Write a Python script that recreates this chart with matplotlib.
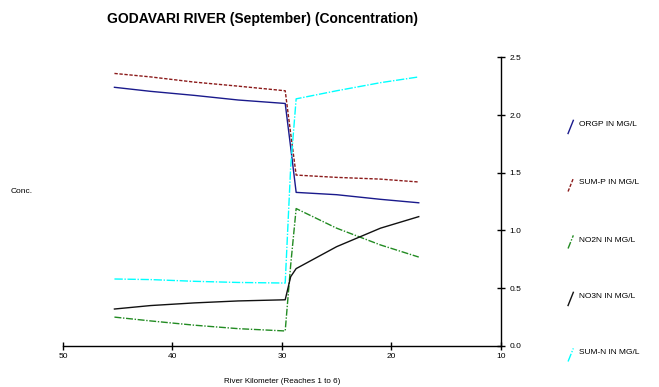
import matplotlib
matplotlib.use("Agg")
import matplotlib.pyplot as plt
from matplotlib.lines import Line2D

plt.rcParams["font.family"] = ["Liberation Sans", "DejaVu Sans"]

# River kilometer of the computational points (reaches 1 to 6)
km = [45.3, 42.0, 38.0, 34.0, 29.7, 29.2, 28.7, 25.0, 21.0, 17.5]

orgp = [2.24, 2.205, 2.17, 2.13, 2.10, 1.72, 1.33, 1.31, 1.27, 1.24]
sum_p = [2.36, 2.33, 2.285, 2.25, 2.21, 1.84, 1.48, 1.46, 1.445, 1.42]
no2n = [0.25, 0.217, 0.18, 0.15, 0.13, 0.70, 1.19, 1.02, 0.875, 0.77]
no3n = [0.32, 0.35, 0.373, 0.39, 0.40, 0.60, 0.67, 0.86, 1.02, 1.12]
sum_n = [0.58, 0.575, 0.56, 0.55, 0.545, 1.55, 2.14, 2.21, 2.28, 2.33]

labels = ["ORGP IN MG/L", "SUM-P IN MG/L", "NO2N IN MG/L", "NO3N IN MG/L", "SUM-N IN MG/L"]
series = [orgp, sum_p, no2n, no3n, sum_n]
colors = ["#1a1a8c", "#8b1a1a", "#228b22", "#111111", "#00ffff"]
styles = ["-", (0, (2.4, 1.2)), (0, (5, 1.2, 1, 1.2)), "-", (0, (6, 1.2, 1, 1.2))]

fig = plt.figure(figsize=(6.59, 3.87), dpi=100)
ax = fig.add_axes([0.0956, 0.106, 0.6644, 0.746])

for vals, c, ls in zip(series, colors, styles):
    ax.plot(km, vals, color=c, linestyle=ls, linewidth=1.0)

ax.set_xlim(50, 10)
ax.set_ylim(0, 2.5)
ax.set_xticks([50, 40, 30, 20, 10])
ax.set_yticks([0.0, 0.5, 1.0, 1.5, 2.0, 2.5])
ax.set_yticklabels(["0.0", "0.5", "1.0", "1.5", "2.0", "2.5"])
ax.yaxis.tick_right()
ax.spines["top"].set_visible(False)
ax.spines["left"].set_visible(False)
ax.spines["right"].set_linewidth(1.0)
ax.spines["bottom"].set_linewidth(1.0)
ax.tick_params(axis="both", direction="inout", length=6, width=1, labelsize=6, pad=2)
ax.tick_params(axis="y", pad=3)

fig.text(0.399, 0.952, "GODAVARI RIVER (September) (Concentration)",
         ha="center", va="center", fontsize=10, fontweight="bold")
fig.text(0.016, 0.504, "Conc.", ha="left", va="center", fontsize=6)
fig.text(0.428, 0.015, "River Kilometer (Reaches 1 to 6)", ha="center", va="center", fontsize=5.8)

# legend: short slanted strokes with labels down the right side
leg_y = [125, 183, 240, 297, 353]
for lab, c, ls, yp in zip(labels, colors, styles, leg_y):
    yf = 1 - yp / 387
    fig.add_artist(Line2D([0.862, 0.870], [yf - 0.022, yf + 0.012], color=c,
                          linestyle=ls, linewidth=1.0, transform=fig.transFigure))
    fig.text(0.879, yf, lab, ha="left", va="center", fontsize=6)

fig.savefig("out.png", dpi=100)
